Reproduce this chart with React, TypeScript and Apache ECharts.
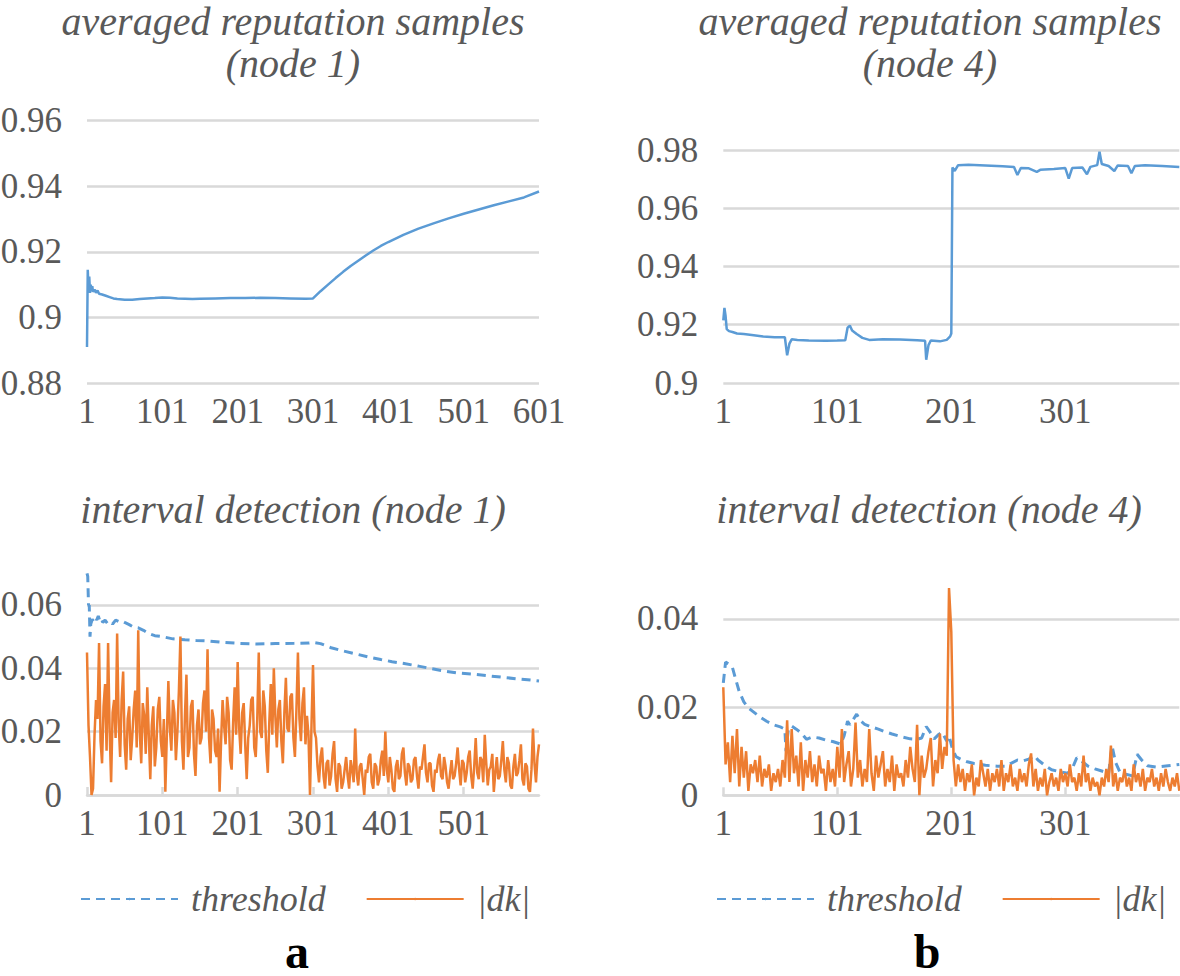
import React, { useEffect, useRef } from 'react';
import * as echarts from 'echarts';

// ---------- DATA ----------
// x axis ticks: sample index t (label shows t + 1)
const xTickStep = 100;

// averaged reputation samples (node 1)
const node1RepT = [0, 1, 2, 3, 4, 5, 6, 7, 8, 10, 12, 14, 16, 20, 25, 30, 35, 40, 50, 60, 70, 80, 90, 100, 110, 120, 130, 140, 150, 170, 190, 210, 230, 250, 270, 290, 300, 310, 320, 330, 340, 350, 360, 370, 380, 390, 400, 420, 440, 460, 480, 500, 520, 540, 560, 580, 600];
const node1RepV = [0.891, 0.9145, 0.9085, 0.9125, 0.9075, 0.91, 0.908, 0.9095, 0.9078, 0.9085, 0.9075, 0.9082, 0.9072, 0.907, 0.9066, 0.9062, 0.9058, 0.9056, 0.9054, 0.9054, 0.9056, 0.9058, 0.9059, 0.9061, 0.906, 0.9058, 0.9057, 0.9056, 0.9057, 0.9058, 0.9059, 0.9059, 0.906, 0.9059, 0.9058, 0.9057, 0.9058, 0.908, 0.91, 0.912, 0.9139, 0.9157, 0.9173, 0.9189, 0.9204, 0.9218, 0.923, 0.9252, 0.9271, 0.9287, 0.9302, 0.9316, 0.9329, 0.9342, 0.9354, 0.9366, 0.9384];

// averaged reputation samples (node 4)
const node4RepT = [0, 1, 2, 3, 5, 8, 12, 18, 25, 35, 45, 54, 56, 58, 60, 65, 75, 90, 100, 107, 109, 111, 113, 117, 122, 128, 140, 155, 170, 177, 178, 180, 182, 190, 196, 199, 200, 201, 203, 206, 215, 230, 245, 255, 258, 261, 268, 275, 278, 290, 300, 303, 306, 315, 319, 322, 328, 330, 332, 338, 343, 346, 355, 358, 361, 370, 385, 400];
const node4RepV = [0.9215, 0.9258, 0.923, 0.9185, 0.9178, 0.9175, 0.917, 0.9168, 0.9165, 0.916, 0.9157, 0.9157, 0.9095, 0.9135, 0.915, 0.9148, 0.9146, 0.9145, 0.9146, 0.9147, 0.919, 0.9197, 0.918, 0.9168, 0.9155, 0.9148, 0.915, 0.9149, 0.9147, 0.9145, 0.908, 0.913, 0.9146, 0.9143, 0.9148, 0.916, 0.917, 0.974, 0.9728, 0.9748, 0.9749, 0.9747, 0.9744, 0.9742, 0.9714, 0.9738, 0.9737, 0.9725, 0.9732, 0.9735, 0.9738, 0.9702, 0.9738, 0.974, 0.9717, 0.9742, 0.9748, 0.9794, 0.9752, 0.9745, 0.9728, 0.9747, 0.9745, 0.972, 0.9745, 0.9748, 0.9745, 0.9742];

// interval detection (node 1): threshold
const node1ThrT = [0, 1, 2, 3, 4, 5, 7, 9, 11, 13, 15, 17, 19, 21, 24, 27, 30, 34, 38, 42, 46, 50, 56, 62, 68, 75, 82, 90, 100, 114, 130, 145, 163, 180, 200, 225, 250, 275, 295, 300, 310, 324, 340, 356, 373, 390, 405, 421, 440, 455, 470, 490, 510, 530, 550, 570, 585, 600];
const node1ThrV = [0.07, 0.069, 0.06, 0.06, 0.05, 0.054, 0.0555, 0.0548, 0.056, 0.0553, 0.0565, 0.055, 0.0557, 0.0545, 0.0552, 0.0542, 0.0548, 0.054, 0.0552, 0.0548, 0.055, 0.0545, 0.0538, 0.053, 0.0528, 0.052, 0.051, 0.0503, 0.05, 0.0493, 0.049, 0.0488, 0.0486, 0.0482, 0.0479, 0.0477, 0.0478, 0.0479, 0.048, 0.0482, 0.0478, 0.0465, 0.0455, 0.0446, 0.0436, 0.0428, 0.0421, 0.0415, 0.0407, 0.04, 0.0393, 0.0386, 0.0382, 0.0377, 0.0372, 0.0367, 0.0364, 0.036];

// interval detection (node 1): |dk|, one value every 2 samples (t = 0, 2, ..., 600)
const dk1Step = 2;
const dk1V = [
  0.045, 0.022, 0.012, 0.0, 0.002, 0.019, 0.03, 0.024, 0.048, 0.017,
  0.01, 0.028, 0.035, 0.014, 0.048, 0.021, 0.004, 0.026, 0.03, 0.018,
  0.051, 0.023, 0.012, 0.03, 0.039, 0.016, 0.008, 0.024, 0.028, 0.011,
  0.018, 0.027, 0.033, 0.015, 0.052, 0.02, 0.01, 0.029, 0.025, 0.013,
  0.034, 0.019, 0.005, 0.022, 0.028, 0.009, 0.015, 0.027, 0.031, 0.017,
  0.012, 0.024, 0.001, 0.019, 0.036, 0.021, 0.014, 0.03, 0.026, 0.011,
  0.02, 0.033, 0.05, 0.017, 0.008, 0.025, 0.038, 0.012, 0.015, 0.028,
  0.03, 0.013, 0.006, 0.022, 0.027, 0.016, 0.018, 0.029, 0.033, 0.02,
  0.046, 0.018, 0.01, 0.027, 0.024, 0.014, 0.012, 0.021, 0.001, 0.017,
  0.03, 0.022, 0.016, 0.031, 0.026, 0.011, 0.008, 0.023, 0.034, 0.019,
  0.042, 0.021, 0.013, 0.026, 0.029, 0.016, 0.005, 0.018, 0.022, 0.03,
  0.031, 0.015, 0.012, 0.024, 0.045, 0.02, 0.018, 0.033, 0.028, 0.014,
  0.007, 0.023, 0.035, 0.019, 0.04, 0.025, 0.015, 0.027, 0.03, 0.017,
  0.01, 0.026, 0.037, 0.021, 0.02, 0.031, 0.032, 0.018, 0.012, 0.027,
  0.045, 0.024, 0.017, 0.029, 0.034, 0.016, 0.025, 0.019, 0.0, 0.022,
  0.041, 0.02, 0.018, 0.009, 0.004, 0.012, 0.015, 0.006, 0.002, 0.01,
  0.011, 0.003, 0.006, 0.013, 0.017, 0.005, 0.001, 0.01, 0.009, 0.002,
  0.004, 0.008, 0.012, 0.006, 0.002, 0.011, 0.008, 0.004, 0.021, 0.007,
  0.003, 0.009, 0.01, 0.005, 0.0, 0.008, 0.007, 0.012, 0.013, 0.004,
  0.002, 0.01, 0.009, 0.003, 0.005, 0.011, 0.014, 0.006, 0.02, 0.008,
  0.004, 0.012, 0.008, 0.002, 0.001, 0.009, 0.011, 0.005, 0.006, 0.013,
  0.015, 0.007, 0.003, 0.01, 0.009, 0.004, 0.005, 0.011, 0.012, 0.006,
  0.002, 0.009, 0.008, 0.012, 0.016, 0.007, 0.004, 0.01, 0.01, 0.003,
  0.001, 0.008, 0.007, 0.011, 0.013, 0.006, 0.005, 0.012, 0.009, 0.004,
  0.002, 0.007, 0.011, 0.005, 0.006, 0.01, 0.015, 0.008, 0.003, 0.011,
  0.01, 0.004, 0.007, 0.012, 0.014, 0.006, 0.002, 0.009, 0.018, 0.007,
  0.005, 0.012, 0.011, 0.004, 0.019, 0.01, 0.003, 0.008, 0.009, 0.013,
  0.001, 0.007, 0.012, 0.005, 0.006, 0.011, 0.017, 0.008, 0.004, 0.012,
  0.01, 0.003, 0.002, 0.009, 0.013, 0.006, 0.007, 0.011, 0.016, 0.005,
  0.003, 0.01, 0.009, 0.002, 0.001, 0.008, 0.021, 0.01, 0.004, 0.012,
  0.016,
];

// interval detection (node 4): threshold
const node4ThrT = [0, 2, 5, 8, 11, 14, 18, 22, 27, 32, 38, 44, 50, 54, 55, 57, 60, 64, 68, 73, 78, 84, 90, 96, 103, 106, 109, 111, 114, 117, 120, 124, 130, 136, 142, 148, 156, 164, 170, 174, 178, 181, 185, 189, 192, 196, 198, 201, 204, 208, 214, 220, 230, 240, 248, 252, 258, 263, 268, 273, 276, 282, 288, 296, 302, 306, 310, 314, 320, 326, 332, 338, 341, 344, 348, 354, 359, 363, 367, 372, 380, 390, 400];
const node4ThrV = [0.0255, 0.0302, 0.0297, 0.029, 0.0262, 0.0235, 0.0212, 0.0198, 0.0188, 0.0178, 0.0168, 0.016, 0.0155, 0.015, 0.01, 0.0148, 0.0157, 0.015, 0.0142, 0.0127, 0.0132, 0.013, 0.0125, 0.0122, 0.0116, 0.0135, 0.0168, 0.016, 0.0172, 0.0184, 0.017, 0.0161, 0.0155, 0.015, 0.0144, 0.0139, 0.0133, 0.0128, 0.0127, 0.013, 0.0156, 0.0145, 0.0128, 0.0138, 0.0143, 0.0123, 0.0135, 0.0105, 0.0088, 0.0082, 0.0076, 0.0072, 0.0068, 0.0066, 0.0066, 0.0072, 0.008, 0.0078, 0.0082, 0.009, 0.008, 0.0068, 0.0058, 0.0053, 0.005, 0.006, 0.0085, 0.0078, 0.0066, 0.006, 0.0055, 0.005, 0.0112, 0.0075, 0.0052, 0.0047, 0.0044, 0.0093, 0.008, 0.0067, 0.0064, 0.0067, 0.007];

// interval detection (node 4): |dk|, one value every 2 samples (t = 0, 2, ..., 400)
const dk4Step = 2;
const dk4V = [
  0.0245, 0.007, 0.012, 0.003, 0.0135, 0.005, 0.015, 0.002, 0.011, 0.004,
  0.01, 0.001, 0.007, 0.005, 0.008, 0.003, 0.009, 0.002, 0.006, 0.004,
  0.007, 0.001, 0.005, 0.003, 0.006, 0.002, 0.008, 0.004, 0.017, 0.003,
  0.015, 0.005, 0.009, 0.002, 0.012, 0.001, 0.008, 0.004, 0.01, 0.003,
  0.007, 0.002, 0.009, 0.005, 0.006, 0.001, 0.008, 0.003, 0.006, 0.002,
  0.011, 0.004, 0.015, 0.003, 0.007, 0.01, 0.002, 0.006, 0.0165, 0.004,
  0.008, 0.002, 0.006, 0.003, 0.015, 0.005, 0.001, 0.009, 0.004, 0.007,
  0.01, 0.002, 0.006, 0.003, 0.009, 0.001, 0.007, 0.004, 0.005, 0.002,
  0.008, 0.004, 0.011, 0.006, 0.003, 0.016, 0.0, 0.009, 0.004, 0.006,
  0.01, 0.013, 0.002, 0.008, 0.005, 0.014, 0.006, 0.011, 0.009, 0.047,
  0.037, 0.008, 0.002, 0.007, 0.003, 0.006, 0.001, 0.005, 0.003, 0.007,
  0.0, 0.004, 0.002, 0.008, 0.005, 0.002, 0.006, 0.001, 0.005, 0.003,
  0.006, 0.002, 0.008, 0.001, 0.005, 0.003, 0.007, 0.002, 0.004, 0.001,
  0.006, 0.003, 0.005, 0.002, 0.007, 0.0095, 0.002, 0.006, 0.001, 0.004,
  0.002, 0.006, 0.0, 0.003, 0.005, 0.002, 0.004, 0.001, 0.006, 0.003,
  0.005, 0.002, 0.007, 0.003, 0.004, 0.001, 0.005, 0.002, 0.009, 0.003,
  0.005, 0.001, 0.004, 0.002, 0.003, 0.0, 0.004, 0.002, 0.006, 0.003,
  0.0113, 0.002, 0.005, 0.001, 0.004, 0.003, 0.006, 0.002, 0.004, 0.001,
  0.007, 0.003, 0.005, 0.002, 0.006, 0.001, 0.004, 0.003, 0.006, 0.002,
  0.004, 0.001, 0.005, 0.002, 0.006, 0.003, 0.001, 0.004, 0.002, 0.005,
  0.001,
];

const panelTitles = [
  'averaged reputation samples\n(node 1)',
  'averaged reputation samples\n(node 4)',
  'interval detection (node 1)',
  'interval detection (node 4)',
];
const legendNames = ['threshold', '|dk|'];
const panelLetters = ['a', 'b'];

// ---------- STYLE ----------
const FONT = '"Liberation Serif", "Times New Roman", serif';
const TXT = '#595959';
const GRID_C = '#D9D9D9';
const BLUE = '#5B9BD5';
const ORANGE = '#ED7D31';
const AXIS_FS = 35;

const pairs = (xs: number[], ys: number[]) => xs.map((x, i) => [x, ys[i]]);
const stepped = (ys: number[], step: number) => ys.map((y, i) => [i * step, y]);

const xAxisDef = (gridIndex: number, max: number, bottom: boolean, showMax: boolean) => ({
  type: 'value',
  gridIndex,
  min: 0,
  max,
  interval: xTickStep,
  axisLine: { show: bottom, lineStyle: { color: GRID_C, width: 2.5 } },
  axisTick: { show: bottom, inside: true, length: 8, lineStyle: { color: GRID_C, width: 2.5 } },
  splitLine: { show: false },
  axisLabel: {
    margin: 11,
    fontSize: AXIS_FS,
    fontFamily: FONT,
    color: TXT,
    showMinLabel: true,
    showMaxLabel: showMax,
    formatter: (v: number) => String(Math.round(v) + 1),
  },
});

const yAxisDef = (gridIndex: number, min: number, max: number, hideMax: boolean) => ({
  type: 'value',
  gridIndex,
  min,
  max,
  interval: 0.02,
  axisLine: { show: false },
  axisTick: { show: false },
  splitLine: { show: true, showMaxLine: !hideMax, lineStyle: { color: GRID_C, width: 2.5 } },
  axisLabel: {
    margin: 25,
    fontSize: AXIS_FS,
    fontFamily: FONT,
    color: TXT,
    showMinLabel: true,
    showMaxLabel: !hideMax,
  },
});

const lineSeries = (name: string, idx: number, data: number[][], color: string, dashed: boolean) => ({
  name,
  type: 'line',
  xAxisIndex: idx,
  yAxisIndex: idx,
  data,
  symbol: 'none',
  showSymbol: false,
  silent: true,
  itemStyle: { color },
  lineStyle: { color, width: dashed ? 3 : 2.5, type: dashed ? [9, 6] : 'solid' },
});

const titleText = (text: string, x: number, y: number) => ({
  type: 'text',
  x,
  y,
  silent: true,
  style: {
    text,
    fill: TXT,
    fontSize: 40,
    lineHeight: 42,
    fontStyle: 'italic',
    fontFamily: FONT,
    align: 'center',
    verticalAlign: 'top',
  },
});

const legendDef = (left: number) => ({
  left,
  top: 876,
  orient: 'horizontal',
  itemWidth: 97,
  itemHeight: 3,
  itemGap: 40,
  data: legendNames,
  selectedMode: false,
  textStyle: {
    fontSize: 36,
    fontStyle: 'italic',
    fontFamily: FONT,
    color: TXT,
    padding: [0, 0, 0, 8],
  },
});

const gridBox = (left: number, top: number, width: number, height: number) => ({
  left,
  top,
  width,
  height,
  containLabel: false,
  outerBoundsMode: 'none',
});

export default function App() {
  const ref = useRef<HTMLDivElement>(null);
  useEffect(() => {
    if (!ref.current) return;
    const chart = echarts.init(ref.current, null, { renderer: 'svg' });
    const option: any = {
      animation: false,
      backgroundColor: '#ffffff',
      grid: [
        gridBox(87, 120.7, 452, 262.3),
        gridBox(723.3, 150, 456, 233),
        gridBox(87, 573.3, 452, 221.7),
        gridBox(723.3, 574.8, 456, 220.5),
      ],
      xAxis: [
        xAxisDef(0, 600, false, true),
        xAxisDef(1, 400, false, false),
        xAxisDef(2, 600, true, false),
        xAxisDef(3, 400, true, false),
      ],
      yAxis: [
        yAxisDef(0, 0.88, 0.96, false),
        yAxisDef(1, 0.9, 0.98, false),
        yAxisDef(2, 0, 0.07, true),
        yAxisDef(3, 0, 0.05, true),
      ],
      legend: [legendDef(75), legendDef(711)],
      series: [
        lineSeries('node 1 reputation', 0, pairs(node1RepT, node1RepV), BLUE, false),
        lineSeries('node 4 reputation', 1, pairs(node4RepT, node4RepV), BLUE, false),
        lineSeries('threshold', 2, pairs(node1ThrT, node1ThrV), BLUE, true),
        lineSeries('|dk|', 2, stepped(dk1V, dk1Step), ORANGE, false),
        lineSeries('threshold', 3, pairs(node4ThrT, node4ThrV), BLUE, true),
        lineSeries('|dk|', 3, stepped(dk4V, dk4Step), ORANGE, false),
      ],
      graphic: [
        titleText(panelTitles[0], 293, 0),
        titleText(panelTitles[1], 930, 0),
        titleText(panelTitles[2], 293, 488),
        titleText(panelTitles[3], 929, 488),
        {
          type: 'text', x: 297, y: 951, silent: true,
          style: { text: panelLetters[0], fill: '#000', fontSize: 48, fontWeight: 'bold', fontFamily: FONT, align: 'center', verticalAlign: 'middle' },
        },
        {
          type: 'text', x: 927, y: 951, silent: true,
          style: { text: panelLetters[1], fill: '#000', fontSize: 48, fontWeight: 'bold', fontFamily: FONT, align: 'center', verticalAlign: 'middle' },
        },
      ],
    };
    chart.setOption(option);
    return () => chart.dispose();
  }, []);
  return (
    <div
      ref={ref}
      style={{ position: 'absolute', left: 0, top: 0, width: 1180, height: 976, background: '#fff' }}
    />
  );
}
